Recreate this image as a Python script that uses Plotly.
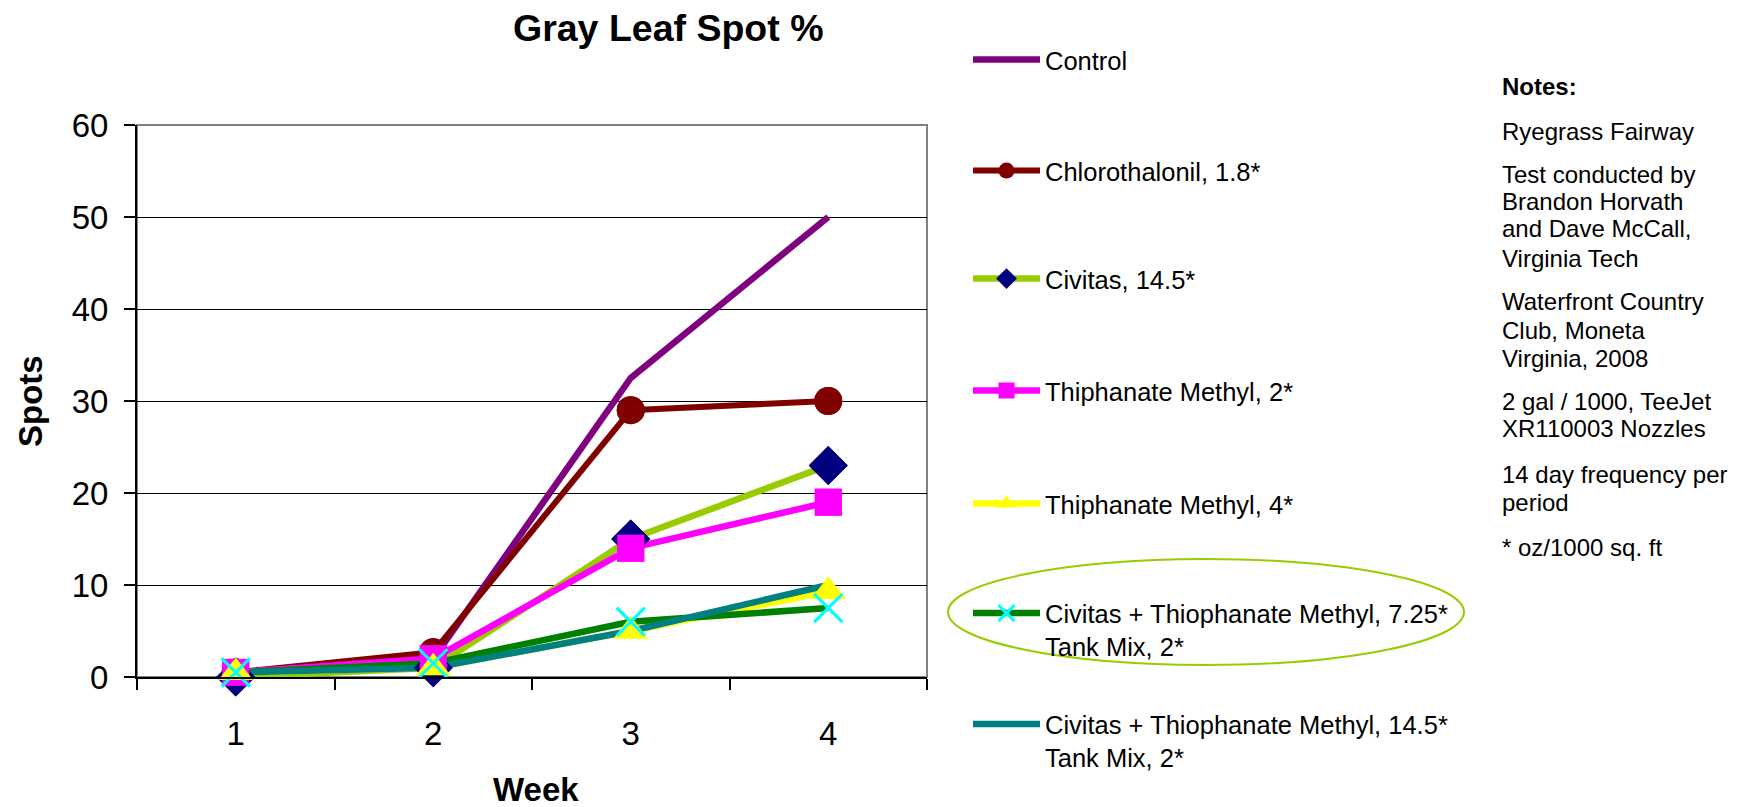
import plotly.graph_objects as go

# ---------------- data ----------------
weeks = ["1", "2", "3", "4"]
series_names = [
    "Control",
    "Chlorothalonil, 1.8*",
    "Civitas, 14.5*",
    "Thiphanate Methyl, 2*",
    "Thiphanate Methyl, 4*",
    "Civitas + Thiophanate Methyl, 7.25*<br>Tank Mix, 2*",
    "Civitas + Thiophanate Methyl, 14.5*<br>Tank Mix, 2*",
]
control = [0.5, 2.0, 32.5, 50.0]
chlorothalonil = [0.5, 2.7, 29.0, 30.0]
civitas = [0.0, 1.0, 15.0, 23.0]
tm_2 = [0.5, 2.0, 14.0, 19.0]
tm_4 = [0.5, 1.0, 5.0, 9.3]
civ_tm_725 = [0.5, 1.5, 6.0, 7.5]
civ_tm_145 = [0.5, 1.0, 5.0, 10.0]
y_ticks = [0, 10, 20, 30, 40, 50, 60]

title_text = "Gray Leaf Spot %"
x_title = "Week"
y_title = "Spots"
notes_lines = [
    ("<b>Notes:</b>", 87),
    ("Ryegrass Fairway", 131),
    ("Test conducted by", 175),
    ("Brandon Horvath", 202),
    ("and Dave McCall,", 229),
    ("Virginia Tech", 258),
    ("Waterfront Country", 301),
    ("Club, Moneta", 330),
    ("Virginia, 2008", 358),
    ("2 gal / 1000, TeeJet", 401),
    ("XR110003 Nozzles", 428),
    ("14 day frequency per", 475),
    ("period", 503),
    ("* oz/1000 sq. ft", 547),
]

# ---------------- layout geometry (pixels) ----------------
W, H = 1744, 807
L, R, T, B = 137, 927, 125, 677


def px_x(p):
    return (p - L) / (R - L)


def px_y(p):
    return (B - p) / (B - T)


FONT = "Liberation Sans, Arial, sans-serif"

styles = [
    dict(line=dict(color="#800080", width=6.5), mode="lines"),
    dict(line=dict(color="#800000", width=6), mode="lines+markers",
         marker=dict(symbol="circle", size=28, color="#800000")),
    dict(line=dict(color="#99CC00", width=6.5), mode="lines+markers",
         marker=dict(symbol="diamond", size=30, color="#000080")),
    dict(line=dict(color="#FF00FF", width=6.5), mode="lines+markers",
         marker=dict(symbol="square", size=27, color="#FF00FF")),
    dict(line=dict(color="#FFFF00", width=6.5), mode="lines+markers",
         marker=dict(symbol="triangle-up", size=30, color="#FFFF00")),
    dict(line=dict(color="#008000", width=6.5), mode="lines+markers",
         marker=dict(symbol="x-thin", size=28, color="#00FFFF",
                     line=dict(color="#00FFFF", width=3))),
    dict(line=dict(color="#008080", width=6.5), mode="lines"),
]
values = [control, chlorothalonil, civitas, tm_2, tm_4, civ_tm_725, civ_tm_145]
# vertical centre (px) of each legend entry
legend_centers = [60, 171, 279, 391, 504, 630, 741]

fig = go.Figure()
legend_layouts = {}
for i, (name, vals, st) in enumerate(zip(series_names, values, styles)):
    lg = "legend" if i == 0 else f"legend{i + 1}"
    fig.add_trace(go.Scatter(x=weeks, y=vals, name=name, legend=lg,
                             cliponaxis=False, **st))
    legend_layouts[lg] = dict(
        x=px_x(968), y=px_y(legend_centers[i]), xanchor="left", yanchor="middle",
        font=dict(family=FONT, size=25.5, color="black"),
        itemwidth=67, valign="top", bgcolor="rgba(0,0,0,0)",
    )

# markers drawn again above every line (as the original chart does)
for name, vals, st in zip(series_names, values, styles):
    if "marker" in st:
        fig.add_trace(go.Scatter(x=weeks, y=vals, name=name, mode="markers",
                                 marker=st["marker"], showlegend=False,
                                 cliponaxis=False, hoverinfo="skip"))

fig.update_layout(
    width=W, height=H,
    margin=dict(l=L, r=W - R, t=T, b=H - B, pad=0),
    paper_bgcolor="white", plot_bgcolor="white",
    font=dict(family=FONT, color="black"),
    showlegend=True,
    **legend_layouts,
)

fig.update_xaxes(
    type="category", range=[-0.5, 3.5], tickson="boundaries",
    ticks="outside", ticklen=11, tickcolor="black", tickwidth=1.5,
    showline=True, linecolor="black", linewidth=2,
    showgrid=False, zeroline=False,
    tickfont=dict(family=FONT, size=33, color="black"),
    ticklabelstandoff=26,
)
fig.update_yaxes(
    range=[0, 60], tickvals=y_ticks,
    ticks="outside", ticklen=11, tickcolor="black", tickwidth=1.5,
    showline=True, linecolor="black", linewidth=2,
    showgrid=True, gridcolor="black", gridwidth=1,
    zeroline=False,
    tickfont=dict(family=FONT, size=33, color="black"),
    ticklabelstandoff=9,
)

# plot-area frame (gray)
fig.add_shape(type="rect", xref="paper", yref="paper", x0=0, x1=1, y0=0, y1=1,
              line=dict(color="#808080", width=2), layer="below")

# highlight ellipse around legend entry
fig.add_shape(type="circle", xref="paper", yref="paper",
              x0=px_x(948), x1=px_x(1464), y0=px_y(665), y1=px_y(559),
              line=dict(color="#99CC00", width=2))

# titles
fig.add_annotation(text=f"<b>{title_text}</b>", xref="paper", yref="paper",
                   x=px_x(668), y=px_y(28), xanchor="center", yanchor="middle",
                   showarrow=False,
                   font=dict(family=FONT, size=37.5, color="black"))
fig.add_annotation(text=f"<b>{x_title}</b>", xref="paper", yref="paper",
                   x=px_x(536), y=px_y(789), xanchor="center", yanchor="middle",
                   showarrow=False,
                   font=dict(family=FONT, size=33, color="black"))
fig.add_annotation(text=f"<b>{y_title}</b>", xref="paper", yref="paper",
                   x=px_x(30), y=px_y(401), xanchor="center", yanchor="middle",
                   showarrow=False, textangle=-90,
                   font=dict(family=FONT, size=33, color="black"))

for txt, ypx in notes_lines:
    fig.add_annotation(text=txt, xref="paper", yref="paper",
                       x=px_x(1500), y=px_y(ypx), xanchor="left", yanchor="middle",
                       showarrow=False, align="left",
                       font=dict(family=FONT, size=24, color="black"))

fig.write_html("out.html",
               config={"displayModeBar": False},
               post_script="document.body.style.margin='0';")
